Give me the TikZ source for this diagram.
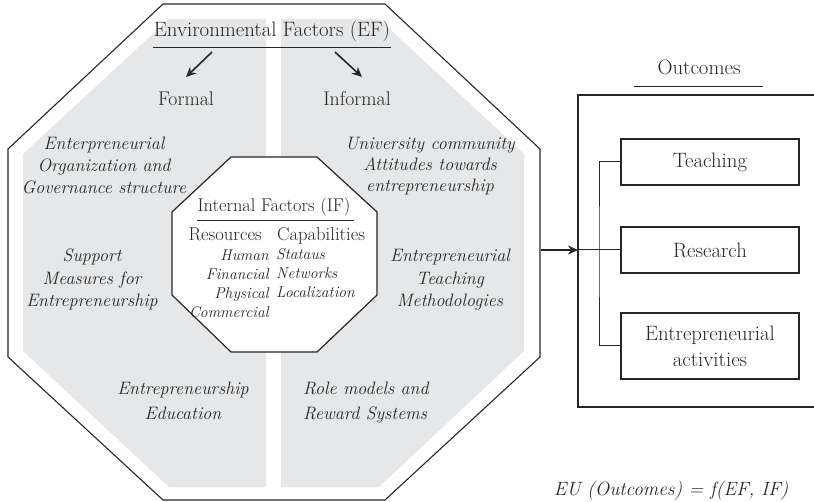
\documentclass[tikz,border=0pt]{standalone}
\usepackage{fontspec}
\usetikzlibrary{arrows.meta}
\definecolor{ink}{RGB}{38,38,38}
\definecolor{panel}{RGB}{230,231,232}
\newcommand{\myfs}[2]{\fontsize{#1}{#2}\selectfont}
\begin{document}
\begin{tikzpicture}[x=1pt,y=-1pt,
  lbl/.style={text=ink, inner sep=0pt},
  ital/.style={lbl, font=\myfs{18.0}{22}\itshape, align=center, anchor=base},
  upright/.style={lbl, font=\myfs{19.8}{22}, anchor=base},
  inner/.style={lbl, font=\myfs{15.6}{19.3}\itshape},
  outbox/.style={draw=ink, line width=1.1pt, minimum width=178pt, text=ink, inner sep=2pt, font=\myfs{20.8}{26}, align=center},
  edge/.style={draw=ink, line width=1.1pt},
  thinline/.style={draw=ink, line width=1pt},
  efarrow/.style={draw=ink, line width=1.6pt, -{Stealth[length=10pt,width=9pt]}},
  mainarrow/.style={draw=ink, line width=1.8pt, -{Stealth[length=10pt,width=9pt]}}]
\useasboundingbox (0,0) rectangle (814,502);
% grey panel and white strip
\fill[panel] (169,19) -- (379,19) -- (524,154) -- (524,351) -- (379,487) -- (169,487) -- (23,351) -- (23,154) -- cycle;
\fill[white] (266,12) rectangle (281,494);
% outer octagon
\draw[edge] (163,4) -- (385,4) -- (540,149) -- (540,357) -- (385,500) -- (163,500) -- (8,357) -- (8,149) -- cycle;
% inner octagon
\draw[edge, fill=white, line width=1.2pt] (231,157) -- (317,157) -- (377,212) -- (377,295) -- (317,352) -- (231,352) -- (172,295) -- (172,212) -- cycle;

% environmental factors
\node[upright, font=\myfs{20.8}{22}] (ef) at (272,37) {Environmental Factors (EF)};
\coordinate (efL) at (153,48);
\coordinate (efR) at (391,48);
\draw[thinline] (efL) -- (efR);
\coordinate (a1s) at (212,52);
\coordinate (a1e) at (186,77);
\coordinate (a2s) at (335,52);
\coordinate (a2e) at (362,77);
\draw[efarrow] (a1s) -- (a1e);
\draw[efarrow] (a2s) -- (a2e);
\node[upright] (formal) at (186,106) {Formal};
\node[upright] (informal) at (357,106) {Informal};

% italic factor labels (anchor = baseline of last line)
\node[ital] (eo) at (104,194) {Enterpreneurial\\Organization and\\Governance structure};
\node[ital, font=\myfs{18.0}{21}\itshape] (uc) at (430,192) {University community\\Attitudes towards\\entrepreneurship};
\node[ital, font=\myfs{18.0}{22.5}\itshape] (sm) at (92,307) {Support\\Measures for\\Entrepreneurship};
\node[ital, font=\myfs{18.0}{22.5}\itshape] (et) at (450,307) {Entrepreneurial\\Teaching\\Methodologies};
\node[ital, font=\myfs{18.0}{25}\itshape] (ee) at (183,420) {Entrepreneurship\\Education};
\node[ital, font=\myfs{18.0}{25}\itshape, align=left, anchor=base west] (rm) at (303,420) {Role models and\\Reward Systems};

% internal factors
\node[lbl, font=\myfs{18.4}{20}, anchor=base] (ift) at (274,212) {Internal Factors (IF)};
\coordinate (ifL) at (197,221);
\coordinate (ifR) at (354,221);
\draw[thinline] (ifL) -- (ifR);
\node[lbl, font=\myfs{18.6}{20}, anchor=base east] (res) at (262,241) {Resources};
\node[lbl, font=\myfs{18.6}{20}, anchor=base west] (cap) at (277,241) {Capabilities};
\node[inner, align=right, anchor=base east] (resl) at (269,318) {Human\\Financial\\Physical\\Commercial};
\node[inner, font=\myfs{15.6}{19}\itshape, align=left, anchor=base west] (capl) at (276,298) {Stataus\\Networks\\Localization};

% outcomes
\node[lbl, font=\myfs{20.8}{22}, anchor=base] (out) at (699,75) {Outcomes};
\coordinate (outL) at (634,87);
\coordinate (outR) at (763,87);
\draw[thinline] (outL) -- (outR);
\coordinate (obTR) at (814,95);
\coordinate (obTL) at (578,95);
\coordinate (obBL) at (578,407);
\coordinate (obBR) at (814,407);
\draw[edge] (obTR) -- (obTL) -- (obBL) -- (obBR);
\node[outbox, minimum height=46pt] (teach) at (710,162) {Teaching};
\node[outbox, minimum height=46pt] (research) at (710,250) {Research};
\node[outbox, minimum height=66pt] (activ) at (710,346) {Entrepreneurial\\activities};
\coordinate (octR) at (541,250);
\coordinate (boxL) at (578,250);
\coordinate (trunk) at (599,250);
\draw[mainarrow] (octR) -- (boxL);
\draw[thinline] (boxL) -- (research.west);
\draw[thinline] (teach.west) -| (trunk) |- (activ.west);

\node[lbl, font=\myfs{19.2}{22}\itshape, anchor=base] (eu) at (671,495) {EU (Outcomes) = f(EF, IF)};
\end{tikzpicture}
\end{document}
